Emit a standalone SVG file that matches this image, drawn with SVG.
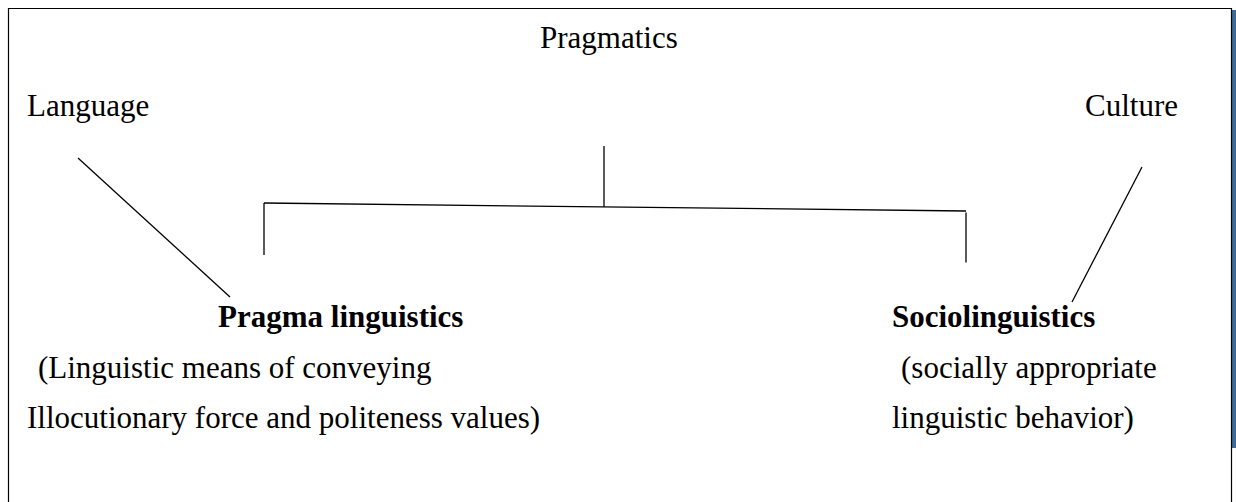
<svg xmlns="http://www.w3.org/2000/svg" width="1236" height="502" viewBox="0 0 1236 502">
<style>
text{font-family:"Liberation Serif","Times New Roman",serif;font-size:31px;fill:#000}
.b{font-weight:bold}
.ln{stroke:#000;stroke-width:1.3;fill:none}
</style>
<rect x="0" y="0" width="1236" height="502" fill="#fff"/>
<rect x="1232" y="10" width="4" height="438" fill="#3f6a9a"/>
<path d="M8.5,502 V8.5 H1231.5 V502" fill="none" stroke="#000" stroke-width="1.2"/>
<g id="pragmatics"><text x="540" y="48">Pragmatics</text></g>
<g id="language"><text x="27" y="116">Language</text></g>
<g id="culture"><text x="1085" y="116">Culture</text></g>
<g id="pragmalinguistics">
<text class="b" x="218" y="327">Pragma linguistics</text>
<text x="38" y="378">(Linguistic means of conveying</text>
<text x="27" y="428">Illocutionary force and politeness values)</text>
</g>
<g id="sociolinguistics">
<text class="b" x="892" y="327">Sociolinguistics</text>
<text x="901" y="378">(socially appropriate</text>
<text x="892" y="428">linguistic behavior)</text>
</g>
<g id="connectors">
<line class="ln" x1="604" y1="146" x2="604" y2="207"/>
<line class="ln" x1="264" y1="203" x2="966" y2="211"/>
<line class="ln" x1="264" y1="203" x2="264" y2="255"/>
<line class="ln" x1="966" y1="212.5" x2="966" y2="262.5"/>
<line class="ln" x1="78" y1="158" x2="230" y2="297"/>
<line class="ln" x1="1142" y1="167" x2="1072" y2="302"/>
</g>
</svg>
